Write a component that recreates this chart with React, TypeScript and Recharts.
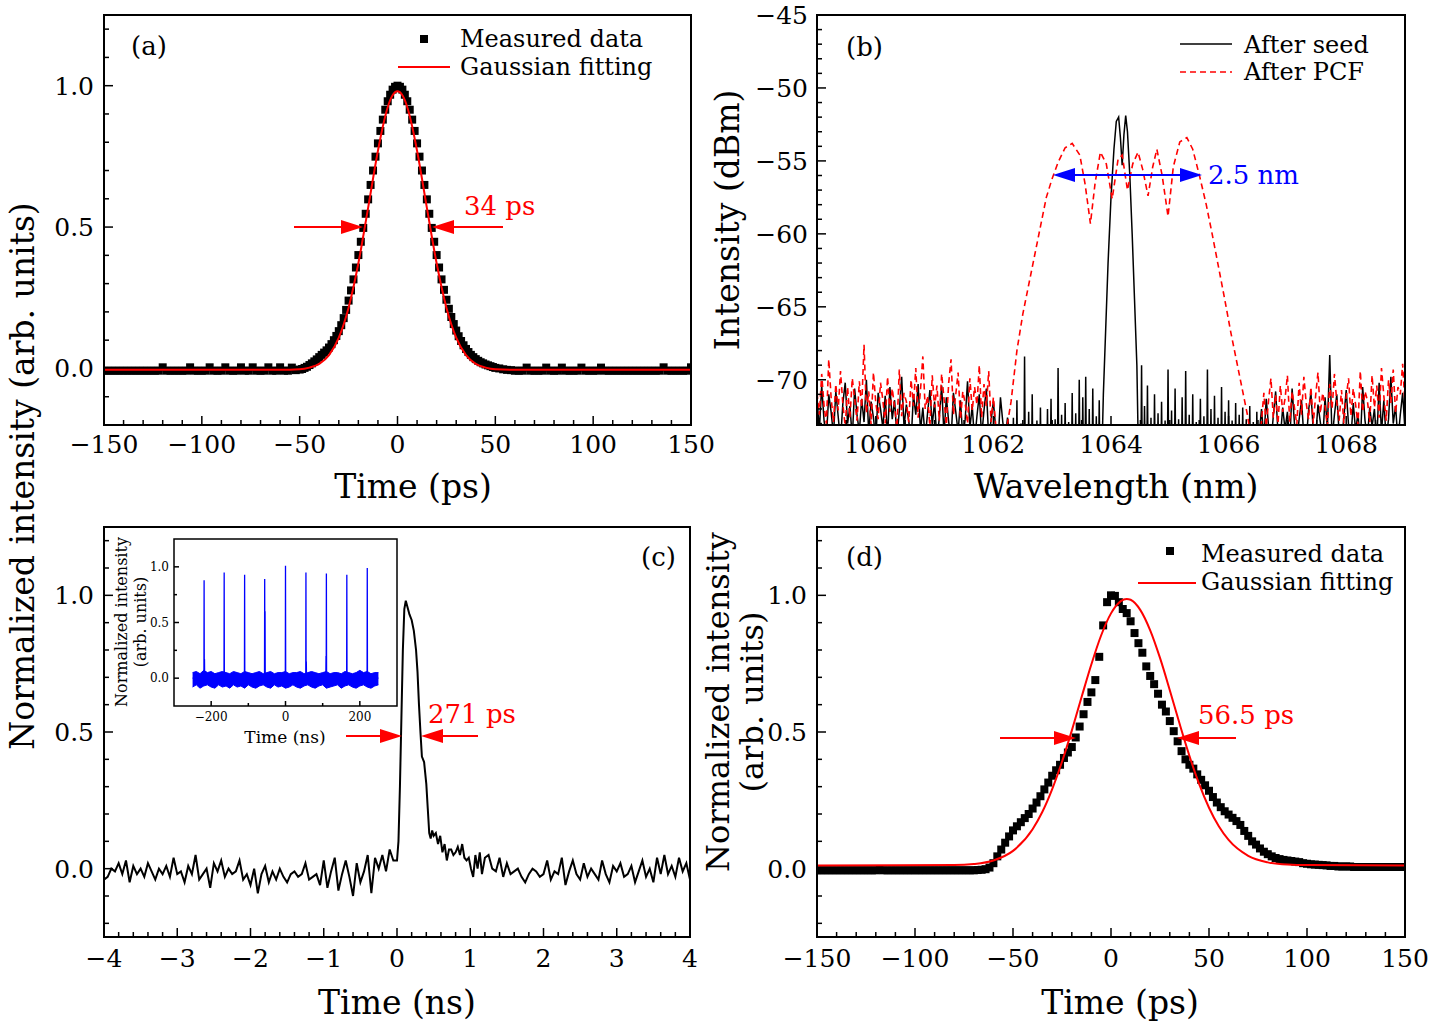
import React from "react";
import { Area, ComposedChart, Line, Scatter, XAxis, YAxis } from "recharts";

const SERIF = '"DejaVu Serif", serif';
const MINUS = "\u2212";

// plot areas on the page (px)
const BOX_A = { x: 104, y: 15, w: 587, h: 410 };
const BOX_B = { x: 817, y: 15, w: 588, h: 410 };
const BOX_C = { x: 104, y: 527, w: 586, h: 410 };
const BOX_D = { x: 817, y: 527, w: 588, h: 410 };
const BOX_IN = { x: 174, y: 539, w: 223, h: 167 };

// ---------- (a) seed autocorrelation ----------
const aLeftStart = -150; // every 2 ps
const aLeft = [
  -0.008, -0.008, -0.008, -0.008, -0.008, -0.008, -0.008, -0.008, -0.008, -0.008,
  -0.008, -0.008, -0.008, -0.008, -0.008, 0.004, -0.008, -0.008, -0.008, -0.008,
  -0.008, -0.008, 0.004, -0.008, -0.008, -0.008, -0.008, 0.004, -0.008, -0.008,
  -0.008, 0.004, -0.008, -0.008, -0.008, 0.004, -0.008, -0.008, 0.004, -0.008,
  -0.008, -0.008, 0.004, -0.008, -0.008, 0.004, -0.008, -0.008, 0.003, -0.006,
];
const aCoreStart = -50; // every 1.25 ps
const aCore = [
  -0.004, -0.002, 0.002, 0.006, 0.012, 0.018, 0.025, 0.032, 0.04,
  0.048, 0.056, 0.064, 0.074, 0.086, 0.1, 0.115, 0.132, 0.153,
  0.178, 0.207, 0.24, 0.276, 0.315, 0.357, 0.401, 0.448, 0.497,
  0.547, 0.598, 0.649, 0.7, 0.749, 0.796, 0.84, 0.88, 0.915,
  0.945, 0.968, 0.986, 0.996, 1.0, 0.996, 0.986, 0.968, 0.945,
  0.915, 0.88, 0.84, 0.796, 0.749, 0.7, 0.649, 0.598, 0.547,
  0.497, 0.448, 0.401, 0.357, 0.315, 0.278, 0.243, 0.211, 0.182,
  0.157, 0.134, 0.114, 0.097, 0.082, 0.069, 0.058, 0.048, 0.04,
  0.033, 0.027, 0.022, 0.018, 0.014, 0.011, 0.008, 0.005, 0.002,
];
const aRightStart = 52; // every 2 ps
const aRight = [
  0.0, -0.003, -0.005, -0.006, -0.008, -0.008, -0.008, 0.003, -0.008, -0.008,
  -0.008, -0.008, 0.003, -0.008, -0.008, -0.008, 0.003, -0.008, -0.008, -0.008,
  -0.008, 0.003, -0.008, -0.008, -0.008, -0.008, 0.003, -0.008, -0.008, -0.008,
  -0.008, -0.008, -0.008, -0.008, -0.008, -0.008, -0.008, -0.008, -0.008, -0.008,
  -0.008, -0.008, 0.004, -0.008, -0.008, -0.008, -0.008, -0.008, -0.008, 0.004,
];
const aFit = [
  [-150, -0.005], [-60, -0.005], [-50, -0.003], [-45, 0.003], [-40, 0.016], [-35, 0.047],
  [-30, 0.109], [-25, 0.215], [-20, 0.372], [-15, 0.569], [-10, 0.77], [-7.5, 0.856],
  [-5, 0.924], [-2.5, 0.966], [0, 0.98], [2.5, 0.966], [5, 0.924], [7.5, 0.856], [10, 0.77],
  [15, 0.569], [20, 0.372], [25, 0.215], [30, 0.109], [35, 0.047], [40, 0.016], [45, 0.003],
  [50, -0.003], [60, -0.005], [150, -0.005],
];

// ---------- (b) spectra ----------
const seedLeftStart = 1059; // every 0.04 nm
const seedLeft = [
  -71.2, -73.5, -70.4, -72.8, -74.0, -71.0, -72.2, -73.8, -70.8, -72.5,
  -74.2, -71.6, -70.2, -73.0, -71.8, -74.0, -70.6, -72.4, -73.6, -71.3,
  -72.9, -70.0, -73.7, -71.5, -72.6, -74.1, -70.9, -72.0, -73.3, -71.1,
  -73.9, -70.5, -72.7, -71.4, -74.0, -72.1, -69.8, -73.2, -71.7, -72.8,
  -74.3, -71.0, -72.4, -70.3, -73.5, -71.9, -74.0, -72.3, -70.7, -73.1,
  -71.5, -74.2, -72.6, -70.4, -73.8, -71.2, -72.9, -74.1, -70.9, -72.2,
  -73.6, -71.4, -74.0, -72.7, -70.1, -73.3, -71.8, -74.2, -72.5, -71.0,
  -73.9, -72.1, -70.6, -74.0, -72.8, -71.5, -73.4, -74.3, -71.2, -72.9,
  -74.1, -72.6, -73.8,
];
const seedSpikesBefore = [
  [1062.34, -72.6], [1062.4, -71.4], [1062.47, -73.0], [1062.53, -68.4], [1062.6, -72.2],
  [1062.66, -71.0], [1062.74, -72.8], [1062.8, -71.9], [1062.86, -73.2], [1062.92, -72.0],
  [1062.98, -71.3], [1063.05, -72.7], [1063.1, -69.2], [1063.16, -72.4], [1063.22, -71.6],
  [1063.28, -72.9], [1063.34, -70.9], [1063.4, -72.3], [1063.46, -70.0], [1063.52, -71.2],
  [1063.57, -69.8], [1063.63, -72.0], [1063.69, -70.6], [1063.75, -72.5], [1063.8, -71.4],
];
const seedPeak = [
  [1063.84, -76], [1063.87, -71], [1063.91, -66.5], [1063.95, -62], [1064.0, -57.5],
  [1064.05, -54.2], [1064.09, -52.3], [1064.13, -52.0], [1064.16, -53.4], [1064.19, -55.3],
  [1064.22, -53.2], [1064.25, -51.9], [1064.28, -53.0], [1064.32, -56], [1064.36, -60],
  [1064.4, -64.5], [1064.44, -69], [1064.47, -76],
];
const seedSpikesAfter = [
  [1064.52, -69.0], [1064.57, -71.8], [1064.62, -70.4], [1064.68, -72.6], [1064.74, -71.0],
  [1064.8, -72.3], [1064.86, -71.5], [1064.92, -72.8], [1064.97, -69.3], [1065.03, -72.1],
  [1065.09, -70.6], [1065.15, -72.7], [1065.21, -71.2], [1065.27, -69.4], [1065.33, -72.4],
  [1065.39, -71.0], [1065.45, -72.9], [1065.52, -71.3], [1065.58, -72.5], [1065.64, -69.3],
  [1065.7, -72.0], [1065.76, -71.1], [1065.82, -72.6], [1065.88, -70.5], [1065.94, -72.2],
  [1066.0, -71.4], [1066.06, -72.8], [1066.12, -71.6], [1066.18, -72.4], [1066.24, -71.9],
  [1066.3, -72.7], [1066.36, -71.8], [1066.42, -72.9], [1066.48, -72.2],
];
const seedRightStart = 1066.52; // every 0.04 nm
const seedRight = [
  -73.8, -72.0, -74.1, -71.3, -73.2, -74.4, -72.5, -70.8, -73.6, -74.0,
  -71.9, -73.4, -72.2, -74.3, -70.6, -73.0, -74.1, -72.7, -71.4, -73.9,
  -74.2, -72.1, -70.9, -73.5, -74.0, -71.7, -72.9, -74.3, -71.2, -73.3,
  -68.3, -74.1, -72.4, -71.0, -73.7, -74.2, -72.6, -70.7, -73.1, -74.0,
  -71.6, -73.5, -72.3, -74.4, -70.5, -72.8, -74.0, -71.9, -73.2, -72.0,
  -74.3, -70.2, -73.6, -71.4, -74.1, -72.7, -69.8, -73.0, -71.8, -74.2,
  -72.4, -70.9, -73.5,
];
const pcfLeftStart = 1059; // every 0.04 nm
const pcfLeft = [
  -70.9, -72.4, -69.6, -71.8, -73.0, -68.6, -71.2, -72.9, -70.3, -72.1,
  -69.4, -71.7, -73.2, -70.5, -72.6, -69.9, -71.3, -72.8, -70.1, -71.9,
  -67.6, -72.3, -70.8, -73.1, -69.5, -71.6, -72.7, -70.2, -71.4, -73.0,
  -69.8, -72.2, -70.6, -71.9, -73.3, -69.3, -72.5, -70.9, -71.5, -72.9,
  -70.0, -71.8, -69.2, -72.6, -70.7, -68.4, -72.0, -71.1, -73.2, -69.7,
  -71.9, -70.4, -72.8, -69.6, -71.3, -73.1, -70.2, -68.6, -72.4, -71.0,
  -69.5, -72.7, -70.8, -71.6, -73.0, -69.9, -72.1, -70.5, -71.7, -69.0,
  -72.6, -70.3, -71.8, -69.4, -72.9, -71.2,
];
const pcfMain = [
  [1062.1, -76], [1062.2, -74], [1062.3, -71.5], [1062.4, -68], [1062.5, -65.5], [1062.6, -63.5],
  [1062.7, -61.5], [1062.8, -59.5], [1062.9, -57.5], [1063.0, -56.2], [1063.1, -55.1],
  [1063.22, -54.1], [1063.34, -53.8], [1063.47, -54.6], [1063.56, -56.6], [1063.65, -59.3],
  [1063.73, -56.5], [1063.82, -54.4], [1063.92, -55.2], [1064.02, -57.6], [1064.12, -54.9],
  [1064.19, -54.6], [1064.28, -57.0], [1064.37, -55.2], [1064.46, -54.4], [1064.54, -55.6],
  [1064.63, -57.4], [1064.71, -55.4], [1064.78, -54.2], [1064.87, -56.0], [1064.97, -58.8],
  [1065.06, -55.4], [1065.17, -53.7], [1065.29, -53.4], [1065.39, -54.2], [1065.51, -56.1],
  [1065.62, -58], [1065.72, -60], [1065.83, -62.3], [1065.93, -64.4], [1066.04, -66.8],
  [1066.14, -68.8], [1066.24, -70.8], [1066.32, -72.4], [1066.4, -74.5], [1066.5, -76],
];
const pcfRightStart = 1066.56; // every 0.04 nm
const pcfRight = [
  -72.8, -70.9, -73.2, -71.4, -69.9, -72.6, -71.0, -73.0, -70.4, -72.2,
  -71.3, -69.7, -72.9, -70.8, -71.9, -73.1, -70.2, -72.4, -69.8, -71.6,
  -72.7, -70.5, -73.0, -71.1, -69.5, -72.3, -70.9, -71.8, -73.2, -70.3,
  -72.0, -69.6, -71.5, -72.8, -70.7, -73.0, -71.2, -69.9, -72.5, -70.6,
  -71.7, -73.1, -69.4, -72.2, -70.8, -71.4, -72.9, -69.7, -71.9, -70.4,
  -72.6, -69.2, -71.1, -72.8, -70.0, -71.6, -69.3, -72.3, -70.5, -71.0,
  -68.9, -71.8,
];

// ---------- (c) amplified pulse ----------
const cLeftStart = -4; // every 0.05 ns
const cLeft = [
  -0.04, -0.03, 0.0, -0.01, 0.02, -0.02, 0.03, -0.05, 0.01, -0.02,
  0.0, -0.03, 0.02, -0.01, -0.04, 0.0, -0.02, 0.01, -0.03, 0.04,
  -0.02, -0.01, -0.05, 0.01, -0.02, 0.05, -0.04, -0.02, 0.0, -0.07,
  0.02, -0.01, 0.03, -0.03, 0.0, -0.02, -0.01, 0.03, -0.04, -0.02,
  -0.06, 0.0, -0.09, -0.02, 0.01, -0.05, -0.01, -0.04, 0.0, -0.03,
  -0.05, -0.02, -0.01, -0.03, -0.02, 0.02, -0.04, -0.03, -0.02, -0.06,
  0.03, -0.07, -0.01, 0.04, -0.08, -0.02, 0.03, -0.03, -0.1, 0.02,
  -0.05, -0.01, 0.05, -0.09, 0.04, 0.0, 0.05, -0.01, 0.07, 0.03,
];
const cPulse = [
  [0.0, 0.03], [0.02, 0.1], [0.04, 0.3], [0.06, 0.55], [0.08, 0.8], [0.1, 0.95], [0.12, 0.98],
  [0.14, 0.96], [0.17, 0.93], [0.2, 0.91], [0.23, 0.87], [0.26, 0.8], [0.28, 0.72], [0.3, 0.6],
  [0.32, 0.5], [0.34, 0.41], [0.37, 0.39], [0.4, 0.31], [0.42, 0.22], [0.44, 0.13], [0.46, 0.11],
  [0.48, 0.14], [0.5, 0.12], [0.53, 0.13], [0.56, 0.09], [0.59, 0.12], [0.62, 0.06], [0.65, 0.09],
  [0.68, 0.03], [0.71, 0.07], [0.74, 0.07], [0.77, 0.05], [0.8, 0.06], [0.83, 0.08], [0.86, 0.05],
  [0.89, 0.09], [0.92, 0.04], [0.95, 0.03], [0.98, 0.04], [1.01, 0.0], [1.04, -0.03], [1.07, 0.05],
  [1.1, 0.0], [1.13, 0.06], [1.16, -0.02], [1.2, 0.04],
];
const cRightStart = 1.25; // every 0.05 ns
const cRight = [
  0.05, 0.0, -0.01, 0.04, -0.03, 0.02, -0.02, -0.01, 0.0, -0.03,
  -0.05, -0.02, 0.0, -0.01, -0.03, -0.02, 0.03, -0.04, -0.01, -0.02,
  0.04, -0.06, -0.01, 0.03, -0.02, -0.04, 0.02, -0.03, 0.0, -0.02,
  -0.04, 0.03, -0.02, -0.05, 0.01, -0.01, 0.02, -0.03, -0.02, 0.01,
  -0.05, -0.01, 0.03, -0.03, 0.0, -0.05, 0.04, -0.02, 0.05, -0.02,
  0.01, -0.03, 0.04, -0.01, 0.02, -0.04,
];

// inset: pulse train
const insetStart = -250; // every 10 ns
const insetHi = [
  0.05, 0.06, 0.04, 0.07, 0.05, 0.06, 0.04, 0.05, 0.06, 0.05,
  0.04, 0.06, 0.05, 0.04, 0.06, 0.05, 0.04, 0.05, 0.06, 0.04,
  0.05, 0.06, 0.04, 0.05, 0.05, 0.06, 0.04, 0.05, 0.05, 0.06,
  0.04, 0.05, 0.06, 0.05, 0.04, 0.05, 0.06, 0.04, 0.05, 0.05,
  0.04, 0.06, 0.05, 0.04, 0.05, 0.07, 0.05, 0.06, 0.04, 0.05,
  0.05,
];
const insetLo = [
  -0.08, -0.06, -0.09, -0.07, -0.06, -0.08, -0.09, -0.06, -0.08, -0.07,
  -0.09, -0.06, -0.08, -0.07, -0.09, -0.06, -0.08, -0.09, -0.07, -0.06,
  -0.08, -0.09, -0.06, -0.08, -0.07, -0.09, -0.08, -0.06, -0.08, -0.09,
  -0.07, -0.06, -0.08, -0.09, -0.07, -0.06, -0.09, -0.08, -0.07, -0.06,
  -0.09, -0.07, -0.06, -0.08, -0.09, -0.07, -0.06, -0.08, -0.09, -0.07,
  -0.06,
];
const insetPulses = [
  [-219, 0.88], [-218, 0.17], [-165, 0.95], [-110, 0.93], [-56, 0.89], [-55, 0.6],
  [0, 1.01], [55, 0.95], [56, 0.15], [109, 0.2], [110, 0.94], [165, 0.93], [220, 0.99],
];

// ---------- (d) compressed pulse ----------
const dStart = -150; // every 2 ps
const dMeasured = [
  -0.006, -0.006, -0.006, -0.006, -0.006, -0.006, -0.006, -0.006, -0.006, -0.006,
  -0.006, -0.006, -0.006, -0.006, -0.006, -0.006, -0.004, -0.006, -0.006, -0.006,
  -0.006, -0.006, -0.006, -0.006, -0.006, -0.006, -0.006, -0.006, -0.006, -0.006,
  -0.006, -0.006, -0.006, -0.006, -0.006, -0.006, -0.006, -0.006, -0.006, -0.006,
  -0.006, -0.005, -0.004, -0.002, 0.004, 0.02, 0.045, 0.07, 0.095, 0.118,
  0.14, 0.155, 0.17, 0.185, 0.2, 0.22, 0.242, 0.265, 0.29, 0.315,
  0.34, 0.36, 0.38, 0.405, 0.425, 0.445, 0.48, 0.52, 0.565, 0.61,
  0.645, 0.69, 0.775, 0.89, 0.975, 1.0, 0.998, 0.975, 0.95, 0.935,
  0.905, 0.862, 0.825, 0.79, 0.74, 0.705, 0.675, 0.64, 0.6, 0.575,
  0.54, 0.503, 0.466, 0.43, 0.4, 0.38, 0.366, 0.345, 0.325, 0.305,
  0.285, 0.262, 0.242, 0.225, 0.21, 0.198, 0.186, 0.174, 0.16, 0.138,
  0.12, 0.1, 0.088, 0.074, 0.062, 0.053, 0.045, 0.039, 0.035, 0.032,
  0.03, 0.028, 0.026, 0.024, 0.02, 0.018, 0.016, 0.015, 0.014, 0.013,
  0.012, 0.01, 0.01, 0.008, 0.008, 0.008, 0.008, 0.006, 0.006, 0.006,
  0.006, 0.006, 0.006, 0.006, 0.006, 0.006, 0.006, 0.006, 0.006, 0.006,
  0.006,
];
const dFit = [
  [-150, 0.012], [-80, 0.013], [-70, 0.017], [-60, 0.03], [-50, 0.065], [-40, 0.144],
  [-35, 0.208], [-30, 0.291], [-25, 0.391], [-20, 0.505], [-15, 0.628], [-10, 0.748],
  [-5, 0.854], [0, 0.934], [5, 0.979], [8, 0.987], [10, 0.984], [15, 0.946], [20, 0.872],
  [25, 0.771], [30, 0.653], [35, 0.53], [40, 0.413], [45, 0.309], [50, 0.223], [55, 0.155],
  [60, 0.105], [70, 0.047], [80, 0.023], [90, 0.015], [100, 0.013], [150, 0.012],
];

// tick labels
const timePsMajor = [-150, -100, -50, 0, 50, 100, 150];
const normMajor = [0, 0.5, 1.0];
const wlMajor = [1060, 1062, 1064, 1066, 1068];
const dbmMajor = [-70, -65, -60, -55, -50, -45];
const timeNsMajor = [-4, -3, -2, -1, 0, 1, 2, 3, 4];
const insetXMajor = [-200, 0, 200];

// ---------- helpers ----------
type Pt = { t: number; v: number };
const even = (start: number, step: number, vals: number[]): Pt[] =>
  vals.map((v, i) => ({ t: +(start + i * step).toFixed(4), v }));
const fromPairs = (list: number[][]): Pt[] => list.map(([t, v]) => ({ t, v }));
const spikes = (list: number[][], half: number, floor: number): Pt[] =>
  list.flatMap(([t, v]) => [
    { t: t - half, v: floor },
    { t, v },
    { t: t + half, v: floor },
  ]);
const steps = (a: number, b: number, s: number) =>
  Array.from({ length: Math.round((b - a) / s) + 1 }, (_, i) => +(a + i * s).toFixed(4));
const isIn = (list: number[], v: number) => list.some((m) => Math.abs(m - v) < 1e-6);
const fmtInt = (v: number) => (v < 0 ? MINUS + Math.abs(v) : String(v));
const fmt1 = (v: number) => v.toFixed(1);

const aMeas = [...even(aLeftStart, 2, aLeft), ...even(aCoreStart, 1.25, aCore), ...even(aRightStart, 2, aRight)];
const aFitPts = fromPairs(aFit);
const seedPts = [
  ...even(seedLeftStart, 0.04, seedLeft),
  ...spikes(seedSpikesBefore, 0.012, -76),
  ...fromPairs(seedPeak),
  ...spikes(seedSpikesAfter, 0.012, -76),
  ...even(seedRightStart, 0.04, seedRight),
];
const pcfPts = [...even(pcfLeftStart, 0.04, pcfLeft), ...fromPairs(pcfMain), ...even(pcfRightStart, 0.04, pcfRight)];
const cPts = [...even(cLeftStart, 0.05, cLeft), ...fromPairs(cPulse), ...even(cRightStart, 0.05, cRight)];
const insetBand = insetHi.map((hi, i) => ({ t: insetStart + i * 10, band: [insetLo[i], hi] }));
const insetSpikes = [{ t: -250, v: 0 }, ...spikes(insetPulses, 0.5, 0), { t: 250, v: 0 }];
const dMeas = even(dStart, 2, dMeasured);
const dFitPts = fromPairs(dFit);

function xTick(majors: number[], fmt: (v: number) => string, size = 25, drop = 28, long = 9, short = 5) {
  return (p: any) => {
    const v = Number(p.payload?.value);
    const major = isIn(majors, v);
    return (
      <g>
        <line x1={p.x} x2={p.x} y1={p.y} y2={p.y - (major ? long : short)} stroke="#000" strokeWidth={1.5} />
        {major && (
          <text x={p.x} y={p.y + drop} textAnchor="middle" fontFamily={SERIF} fontSize={size} fill="#000">
            {fmt(v)}
          </text>
        )}
      </g>
    );
  };
}

function yTick(majors: number[], fmt: (v: number) => string, size = 25, gap = 10, long = 9, short = 5) {
  return (p: any) => {
    const v = Number(p.payload?.value);
    const major = isIn(majors, v);
    return (
      <g>
        <line x1={p.x} x2={p.x + (major ? long : short)} y1={p.y} y2={p.y} stroke="#000" strokeWidth={1.5} />
        {major && (
          <text x={p.x - gap} y={p.y + size * 0.36} textAnchor="end" fontFamily={SERIF} fontSize={size} fill="#000">
            {fmt(v)}
          </text>
        )}
      </g>
    );
  };
}

const M = { top: 24, right: 24, bottom: 70, left: 100 };

// the axes take 1px each, so the margin is reduced by one on those sides
function Panel({ box, margin = M, data, children }: any) {
  const m = { ...margin, left: margin.left - 1, bottom: margin.bottom - 1 };
  return (
    <div style={{ position: "absolute", left: box.x - margin.left, top: box.y - margin.top }}>
      <ComposedChart
        width={box.w + margin.left + margin.right}
        height={box.h + margin.top + margin.bottom}
        margin={m}
        data={data}
      >
        {children}
      </ComposedChart>
    </div>
  );
}

function axes(xDomain: number[], xTicks: number[], xEl: any, yDomain: number[], yTicks: number[], yEl: any) {
  return [
    <XAxis
      key="x"
      type="number"
      dataKey="t"
      domain={xDomain}
      ticks={xTicks}
      interval={0}
      allowDataOverflow
      height={1}
      axisLine={false}
      tickLine={false}
      tickSize={0}
      tickMargin={0}
      tick={xEl}
    />,
    <YAxis
      key="y"
      type="number"
      domain={yDomain}
      ticks={yTicks}
      interval={0}
      allowDataOverflow
      width={1}
      axisLine={false}
      tickLine={false}
      tickSize={0}
      tickMargin={0}
      tick={yEl}
    />,
  ];
}

function Arrow({ from, to, y, color }: { from: number; to: number; y: number; color: string }) {
  const d = Math.sign(to - from);
  const L = 22;
  const H = 7;
  return (
    <g>
      <line x1={from} y1={y} x2={to - d * L} y2={y} stroke={color} strokeWidth={2} />
      <polygon points={`${to},${y} ${to - d * L},${y - H} ${to - d * L},${y + H}`} fill={color} />
    </g>
  );
}

const T = (props: any) => <text fontFamily={SERIF} fill="#000" {...props} />;
const VT = ({ x, y, size, children }: any) => (
  <text
    transform={`translate(${x},${y}) rotate(-90)`}
    textAnchor="middle"
    dominantBaseline="central"
    fontFamily={SERIF}
    fontSize={size}
    fill="#000"
  >
    {children}
  </text>
);

export default function App() {
  const frames = [BOX_A, BOX_B, BOX_C, BOX_D];
  return (
    <div style={{ position: "absolute", left: 0, top: 0, width: 1430, height: 1025, background: "#fff", overflow: "hidden" }}>
      {/* (a) */}
      <Panel box={BOX_A}>
        {axes([-150, 150], steps(-150, 150, 10), xTick(timePsMajor, fmtInt), [-0.2, 1.25], steps(-0.2, 1.2, 0.1), yTick(normMajor, fmt1))}
        <Scatter data={aMeas} dataKey="v" shape="square" fill="#000" isAnimationActive={false} />
      </Panel>
      {/* fit line drawn in a second layer so it sits on top of the squares */}
      <Panel box={BOX_A}>
        {axes([-150, 150], [], false, [-0.2, 1.25], [], false)}
        <Line data={aFitPts} dataKey="v" type="monotone" stroke="#ff0000" strokeWidth={2} dot={false} activeDot={false} isAnimationActive={false} />
      </Panel>

      {/* (b) */}
      <Panel box={BOX_B}>
        {axes([1059, 1069], steps(1059, 1069, 0.5), xTick(wlMajor, fmtInt), [-73.1, -45], steps(-73, -45, 1), yTick(dbmMajor, fmtInt, 25, 9))}
        <Line data={seedPts} dataKey="v" stroke="#000" strokeWidth={1.5} dot={false} activeDot={false} isAnimationActive={false} />
        <Line data={pcfPts} dataKey="v" stroke="#ff0000" strokeWidth={1.6} strokeDasharray="6 4" dot={false} activeDot={false} isAnimationActive={false} />
      </Panel>

      {/* (c) */}
      <Panel box={BOX_C}>
        {axes([-4, 4], steps(-4, 4, 0.2), xTick(timeNsMajor, fmtInt, 25, 30), [-0.25, 1.25], steps(-0.2, 1.2, 0.1), yTick(normMajor, fmt1))}
        <Line data={cPts} dataKey="v" stroke="#000" strokeWidth={2} dot={false} activeDot={false} isAnimationActive={false} />
      </Panel>

      {/* inset of (c) */}
      <Panel box={BOX_IN} margin={{ top: 4, right: 4, bottom: 30, left: 40 }} data={insetBand}>
        {axes([-300, 300], [-200, -100, 0, 100, 200], xTick(insetXMajor, fmtInt, 12, 15, 5, 3), [-0.25, 1.25], [0, 0.25, 0.5, 0.75, 1], yTick(normMajor, fmt1, 12, 5, 5, 3))}
        <Area dataKey="band" type="linear" stroke="#0000ff" strokeWidth={1} fill="#0000ff" fillOpacity={1} dot={false} activeDot={false} isAnimationActive={false} />
        <Line data={insetSpikes} dataKey="v" stroke="#0000ff" strokeWidth={1.3} dot={false} activeDot={false} isAnimationActive={false} />
      </Panel>

      {/* (d) */}
      <Panel box={BOX_D}>
        {axes([-150, 150], steps(-150, 150, 10), xTick(timePsMajor, fmtInt, 25, 30), [-0.25, 1.25], steps(-0.2, 1.2, 0.1), yTick(normMajor, fmt1))}
        <Scatter data={dMeas} dataKey="v" shape="square" fill="#000" isAnimationActive={false} />
      </Panel>
      <Panel box={BOX_D}>
        {axes([-150, 150], [], false, [-0.25, 1.25], [], false)}
        <Line data={dFitPts} dataKey="v" type="monotone" stroke="#ff0000" strokeWidth={2} dot={false} activeDot={false} isAnimationActive={false} />
      </Panel>

      <svg width={1430} height={1025} style={{ position: "absolute", left: 0, top: 0, pointerEvents: "none" }}>
        {frames.map((b, i) => (
          <rect key={i} x={b.x} y={b.y} width={b.w} height={b.h} fill="none" stroke="#000" strokeWidth={2} />
        ))}
        <rect x={BOX_IN.x} y={BOX_IN.y} width={BOX_IN.w} height={BOX_IN.h} fill="none" stroke="#000" strokeWidth={1.5} />

        {/* axis titles */}
        <VT x={22} y={476} size={33}>Normalized intensity (arb. units)</VT>
        <VT x={727} y={220} size={33}>Intensity (dBm)</VT>
        <VT x={718} y={702} size={32}>Normalized intensity</VT>
        <VT x={752} y={702} size={32}>(arb. units)</VT>
        <T x={413} y={498} textAnchor="middle" fontSize={33}>Time (ps)</T>
        <T x={1116} y={498} textAnchor="middle" fontSize={33}>Wavelength (nm)</T>
        <T x={397} y={1014} textAnchor="middle" fontSize={33}>Time (ns)</T>
        <T x={1120} y={1014} textAnchor="middle" fontSize={33}>Time (ps)</T>

        {/* inset titles */}
        <T x={285} y={743} textAnchor="middle" fontSize={17}>Time (ns)</T>
        <VT x={121} y={622} size={16}>Normalized intensity</VT>
        <VT x={140} y={622} size={16}>(arb. units)</VT>

        {/* panel labels */}
        <T x={131} y={55} fontSize={26}>(a)</T>
        <T x={846} y={56} fontSize={26}>(b)</T>
        <T x={641} y={566} fontSize={26}>(c)</T>
        <T x={846} y={566} fontSize={26}>(d)</T>

        {/* legend (a) */}
        <rect x={420} y={35} width={8} height={8} fill="#000" />
        <T x={460} y={47} fontSize={24}>Measured data</T>
        <line x1={398} x2={450} y1={67} y2={67} stroke="#ff0000" strokeWidth={2} />
        <T x={460} y={75} fontSize={24}>Gaussian fitting</T>

        {/* legend (b) */}
        <line x1={1180} x2={1232} y1={44} y2={44} stroke="#000" strokeWidth={1.5} />
        <T x={1244} y={53} fontSize={24}>After seed</T>
        <line x1={1180} x2={1232} y1={72} y2={72} stroke="#ff0000" strokeWidth={1.6} strokeDasharray="6 4" />
        <T x={1244} y={80} fontSize={24}>After PCF</T>

        {/* legend (d) */}
        <rect x={1166} y={547} width={8} height={8} fill="#000" />
        <T x={1201} y={562} fontSize={24}>Measured data</T>
        <line x1={1138} x2={1196} y1={583} y2={583} stroke="#ff0000" strokeWidth={2} />
        <T x={1201} y={590} fontSize={24}>Gaussian fitting</T>

        {/* width annotations */}
        <Arrow from={294} to={363} y={227} color="#ff0000" />
        <Arrow from={503} to={432} y={227} color="#ff0000" />
        <T x={464} y={215} fontSize={26} fill="#ff0000">34 ps</T>

        <Arrow from={1127} to={1053} y={175} color="#0000ff" />
        <Arrow from={1127} to={1202} y={175} color="#0000ff" />
        <T x={1208} y={184} fontSize={26} fill="#0000ff">2.5 nm</T>

        <Arrow from={346} to={402} y={736} color="#ff0000" />
        <Arrow from={478} to={421} y={736} color="#ff0000" />
        <T x={428} y={723} fontSize={26} fill="#ff0000">271 ps</T>

        <Arrow from={1000} to={1076} y={738} color="#ff0000" />
        <Arrow from={1236} to={1177} y={738} color="#ff0000" />
        <T x={1198} y={724} fontSize={26} fill="#ff0000">56.5 ps</T>
      </svg>
    </div>
  );
}
